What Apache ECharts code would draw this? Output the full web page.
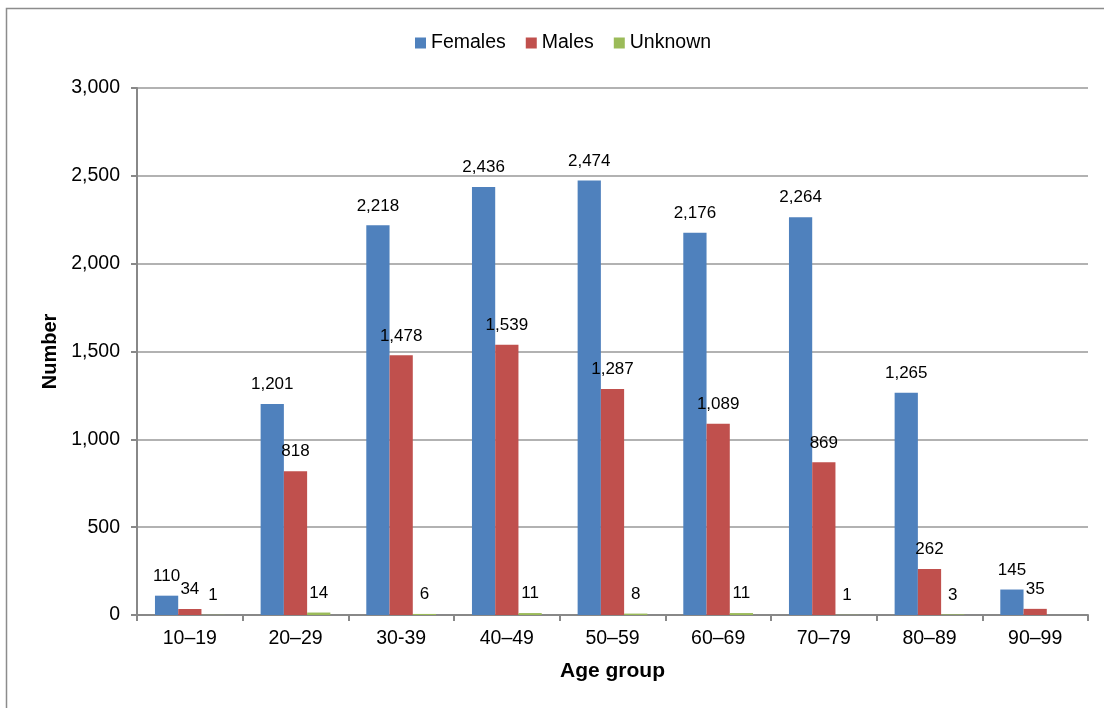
<!DOCTYPE html>
<html>
<head>
<meta charset="utf-8">
<style>
  html, body { margin: 0; padding: 0; background: #fff; }
  #chart { width: 1104px; height: 708px; }
</style>
<script src="https://cdn.jsdelivr.net/npm/echarts@6/dist/echarts.min.js"></script>
</head>
<body>
<div id="chart"></div>
<script>
const ageGroups = ['10–19', '20–29', '30-39', '40–49', '50–59', '60–69', '70–79', '80–89', '90–99'];
const females = [110, 1201, 2218, 2436, 2474, 2176, 2264, 1265, 145];
const males = [34, 818, 1478, 1539, 1287, 1089, 869, 262, 35];
const unknown = [1, 14, 6, 11, 8, 11, 1, 3, null];

const FONT = '"Liberation Sans", Arial, sans-serif';
const fmt = v => Number(v).toLocaleString('en-US');

const labelStyle = {
  show: true,
  position: 'top',
  distance: 11,
  color: '#000',
  fontSize: 17,
  fontFamily: FONT,
  formatter: p => (p.value == null ? '' : fmt(p.value))
};

function barSeries(name, data, color) {
  return {
    name,
    type: 'bar',
    data,
    barGap: '0%',
    barCategoryGap: '34%',
    itemStyle: { color },
    label: labelStyle,
    emphasis: { disabled: true }
  };
}

const chart = echarts.init(document.getElementById('chart'), null, { renderer: 'canvas' });
chart.setOption({
  animation: false,
  backgroundColor: '#fff',
  textStyle: { fontFamily: FONT },
  graphic: [{
    type: 'rect',
    shape: { x: 6.5, y: 8.5, width: 1200, height: 800 },
    style: { fill: 'none', stroke: '#8c8c8c', lineWidth: 1.5 },
    silent: true
  }],
  legend: {
    top: 28,
    left: 410,
    itemWidth: 11,
    itemHeight: 11,
    itemGap: 20,
    icon: 'rect',
    textStyle: { fontSize: 19.5, color: '#000', fontFamily: FONT },
    data: ['Females', 'Males', 'Unknown']
  },
  grid: { left: 137, right: 16, top: 88, bottom: 93, containLabel: false },
  xAxis: {
    type: 'category',
    data: ageGroups,
    name: 'Age group',
    nameLocation: 'middle',
    nameGap: 46,
    nameTextStyle: { fontSize: 21, fontWeight: 'bold', color: '#000', fontFamily: FONT },
    axisLine: { lineStyle: { color: '#888', width: 2 } },
    axisTick: { show: true, length: 6, lineStyle: { color: '#888', width: 2 } },
    axisLabel: { fontSize: 19.5, color: '#000', margin: 14, fontFamily: FONT }
  },
  yAxis: {
    type: 'value',
    min: 0,
    max: 3000,
    interval: 500,
    name: 'Number',
    nameLocation: 'middle',
    nameGap: 76,
    nameTextStyle: { fontSize: 20, fontWeight: 'bold', color: '#000', fontFamily: FONT },
    axisLine: { show: true, lineStyle: { color: '#888', width: 2 } },
    axisTick: { show: true, length: 6, lineStyle: { color: '#888', width: 2 } },
    splitLine: { show: true, lineStyle: { color: '#999', width: 1.5 } },
    axisLabel: { fontSize: 19.5, color: '#000', margin: 17, fontFamily: FONT, formatter: v => fmt(v) }
  },
  series: [
    barSeries('Females', females, '#4F81BD'),
    barSeries('Males', males, '#C0504D'),
    barSeries('Unknown', unknown, '#9BBB59')
  ]
});
</script>
</body>
</html>
